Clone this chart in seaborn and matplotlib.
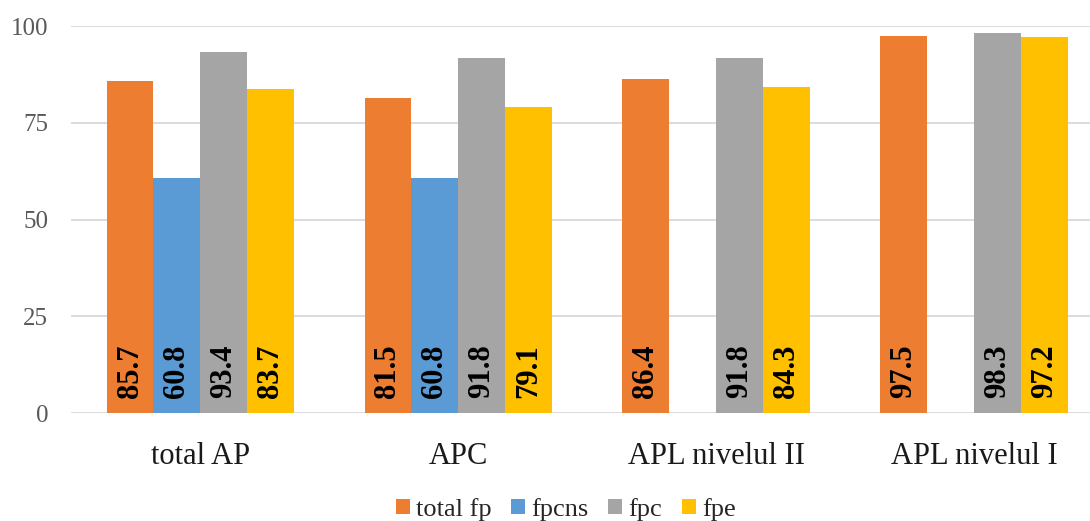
import numpy as np
import pandas as pd
import matplotlib
matplotlib.use("Agg")
import matplotlib.pyplot as plt
import seaborn as sns

categories = ["total AP", "APC", "APL nivelul II", "APL nivelul I"]
series = ["total fp", "fpcns", "fpc", "fpe"]
total_fp = [85.7, 81.5, 86.4, 97.5]
fpcns = [60.8, 60.8, np.nan, np.nan]
fpc = [93.4, 91.8, 91.8, 98.3]
fpe = [83.7, 79.1, 84.3, 97.2]
y_ticks = [0, 25, 50, 75, 100]

colors = ["#ED7D31", "#5B9BD5", "#A5A5A5", "#FFC000"]

sns.set_theme(style="white")
plt.rcParams["font.family"] = ["Liberation Serif", "DejaVu Serif"]

values = {"total fp": total_fp, "fpcns": fpcns, "fpc": fpc, "fpe": fpe}
rows = []
for s in series:
    for c, v in zip(categories, values[s]):
        rows.append({"category": c, "series": s, "value": v})
df = pd.DataFrame(rows)

fig = plt.figure(figsize=(10.9, 5.21), dpi=100)
ax = fig.add_axes([0.0654, 0.207, 0.9464, 0.743])

sns.barplot(data=df, x="category", y="value", hue="series",
            order=categories, hue_order=series, palette=colors,
            width=0.726, gap=0, errorbar=None, saturation=1,
            edgecolor="none", linewidth=0, legend=True, ax=ax)

ax.set_ylim(0, 100)
ax.set_yticks(y_ticks)
ax.yaxis.grid(True, color="#D9D9D9", linewidth=1.3)
ax.set_axisbelow(True)
for sp in ax.spines.values():
    sp.set_visible(False)
ax.set_xlabel("")
ax.set_ylabel("")
ax.tick_params(axis="y", length=0, pad=16.5, labelsize=18, labelcolor="#595959")
ax.tick_params(axis="x", length=0, pad=21, labelsize=22, labelcolor="#1a1a1a")
ax.set_xlim(-0.5, len(categories) - 0.5)

# value labels, rotated, near the base of each bar
for container in ax.containers:
    for bar in container:
        h = bar.get_height()
        if h is None or np.isnan(h):
            continue
        ax.text(bar.get_x() + bar.get_width() / 2, 3.8, f"{h:.1f}",
                rotation=90, ha="center", va="bottom",
                fontsize=22, fontweight="bold", color="black")

handles, labels = ax.get_legend_handles_labels()
ax.get_legend().remove()
fig.legend(handles, labels, loc="center", ncol=4, frameon=False,
           bbox_to_anchor=(0.519, 0.022), fontsize=19,
           handlelength=0.53, handleheight=0.5, handletextpad=0.22,
           columnspacing=0.76, borderaxespad=0, borderpad=0)

fig.savefig("out.png", dpi=100)
